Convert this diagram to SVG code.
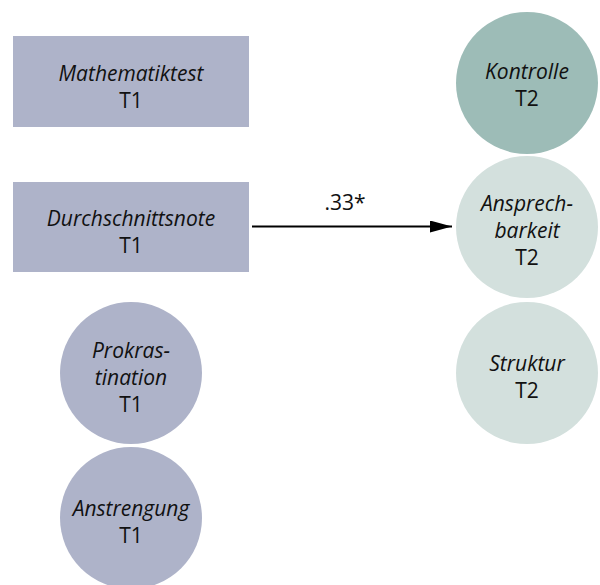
<svg xmlns="http://www.w3.org/2000/svg" width="600" height="585" viewBox="0 0 600 585">
<defs>
<style>
.t{font-family:"Open Sans","DejaVu Sans",sans-serif;font-size:21px;fill:#111;text-anchor:middle}
.i{font-style:italic}
.blue{fill:#aeb3c9}
.dark{fill:#9dbcb7}
.light{fill:#d3e0dd}
</style>
<marker id="ah" markerWidth="22" markerHeight="12" refX="22" refY="6" orient="auto" markerUnits="userSpaceOnUse">
<path d="M0,0 L22,6 L0,12 Z" fill="#000"/>
</marker>
</defs>
<rect width="600" height="585" fill="#fff"/>
<g id="n-math"><rect class="blue" x="13" y="36" width="236" height="91"/>
<text class="t i" x="131" y="81">Mathematiktest</text><text class="t" x="131" y="108">T1</text></g>
<g id="n-durch"><rect class="blue" x="13" y="182" width="236" height="90"/>
<text class="t i" x="131" y="226">Durchschnittsnote</text><text class="t" x="131" y="253">T1</text></g>
<g id="n-prok"><circle class="blue" cx="131" cy="373" r="71"/>
<text class="t i" x="131" y="358">Prokras-</text><text class="t i" x="131" y="385">tination</text><text class="t" x="131" y="412">T1</text></g>
<g id="n-anstr"><circle class="blue" cx="131" cy="518" r="71"/>
<text class="t i" x="131" y="516">Anstrengung</text><text class="t" x="131" y="543">T1</text></g>
<g id="n-kontr"><circle class="dark" cx="527" cy="83" r="71"/>
<text class="t i" x="527" y="79">Kontrolle</text><text class="t" x="527" y="106">T2</text></g>
<g id="n-anspr"><circle class="light" cx="527" cy="227" r="71"/>
<text class="t i" x="527" y="211">Ansprech-</text><text class="t i" x="527" y="238">barkeit</text><text class="t" x="527" y="265">T2</text></g>
<g id="n-struk"><circle class="light" cx="527" cy="373" r="71"/>
<text class="t i" x="527" y="371">Struktur</text><text class="t" x="527" y="398">T2</text></g>
<g id="connectors">
<line x1="252" y1="226.5" x2="452" y2="226.5" stroke="#000" stroke-width="2" marker-end="url(#ah)"/>
<text class="t" x="345" y="210">.33*</text>
</g>
</svg>
